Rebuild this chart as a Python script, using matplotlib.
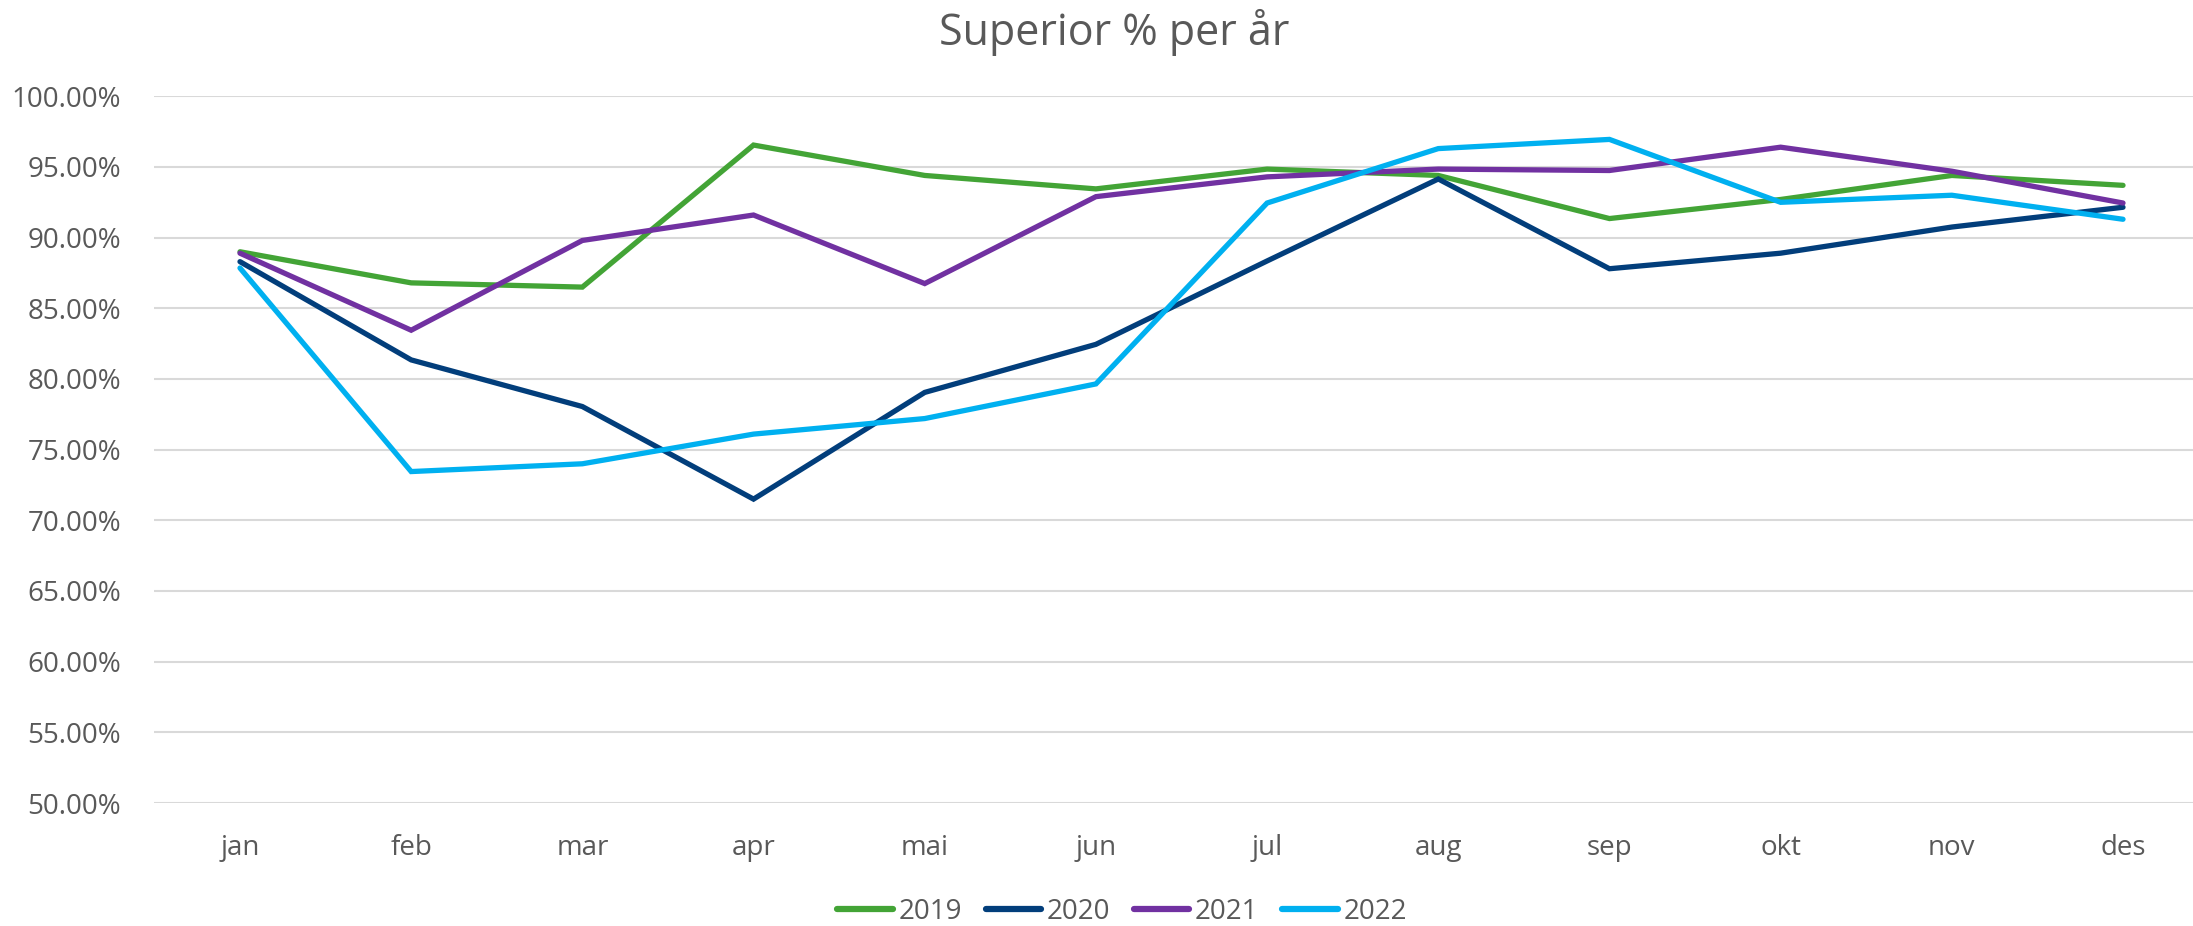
import numpy as np
import matplotlib
matplotlib.use('Agg')
import matplotlib.pyplot as plt
from matplotlib.ticker import FuncFormatter

plt.rcParams['font.family'] = ['Open Sans', 'DejaVu Sans']

# Data (percent)
months = ['jan', 'feb', 'mar', 'apr', 'mai', 'jun', 'jul', 'aug', 'sep', 'okt', 'nov', 'des']
y2019 = [89.0, 86.8, 86.5, 96.55, 94.4, 93.45, 94.85, 94.4, 91.35, 92.7, 94.4, 93.7]
y2020 = [88.3, 81.35, 78.05, 71.5, 79.05, 82.45, 88.35, 94.15, 87.8, 88.9, 90.75, 92.15]
y2021 = [88.9, 83.45, 89.8, 91.6, 86.75, 92.9, 94.3, 94.85, 94.75, 96.4, 94.7, 92.45]
y2022 = [87.85, 73.45, 74.0, 76.1, 77.2, 79.65, 92.45, 96.3, 96.95, 92.5, 93.0, 91.3]

series = [('2019', y2019, '#43A436'),
          ('2020', y2020, '#023E7B'),
          ('2021', y2021, '#7131A1'),
          ('2022', y2022, '#00B0F0')]

text_color = '#595959'
W, H = 2193, 926

fig = plt.figure(figsize=(W / 100, H / 100), dpi=100)
ax = fig.add_axes([154.4 / W, 1 - 803 / H, (2208.6 - 154.4) / W, (803 - 96.3) / H])

x = np.arange(len(months))
for name, vals, color in series:
    ax.plot(x, vals, color=color, lw=3.8, label=name,
            solid_capstyle='round', solid_joinstyle='miter', zorder=3)

ax.set_xlim(-0.5, len(months) - 0.5)
ax.set_ylim(50, 100)
ax.set_yticks(np.arange(50, 100.1, 5))
ax.yaxis.set_major_formatter(FuncFormatter(lambda v, p: f'{v:.2f}%'))
ax.set_xticks(x)
ax.set_xticklabels(months)
ax.grid(axis='y', color='#D9D9D9', lw=1.5, zorder=0)
ax.set_axisbelow(True)
for s in ax.spines.values():
    s.set_visible(False)
ax.tick_params(axis='both', length=0, labelsize=20, colors=text_color)
ax.tick_params(axis='y', pad=24)
ax.tick_params(axis='x', pad=22)

fig.text(1114 / W, 1 - 45 / H, 'Superior % per år', ha='center', va='baseline',
         fontsize=31, color=text_color)

leg = fig.legend(loc='center', bbox_to_anchor=(1122 / W, 1 - 912 / H), ncol=4,
                 frameon=False, fontsize=20, handlelength=2.0, handletextpad=0.2,
                 columnspacing=0.85, borderaxespad=0, borderpad=0)
for line in leg.get_lines():
    line.set_linewidth(4.5)
    line.set_solid_capstyle('round')
for t in leg.get_texts():
    t.set_color(text_color)

fig.savefig('out.png', dpi=100)
